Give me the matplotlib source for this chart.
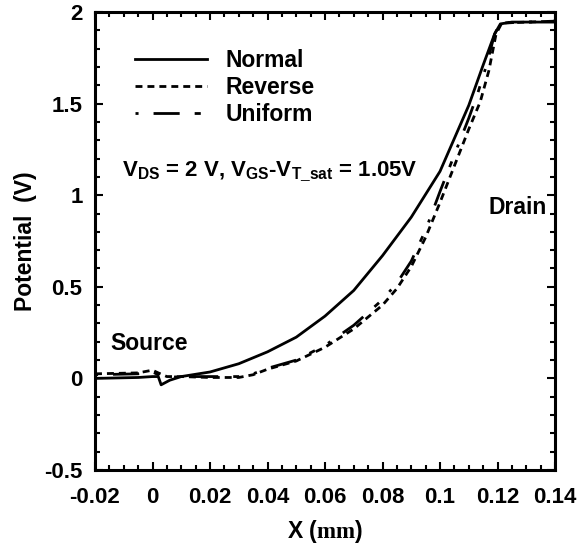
import numpy as np
import matplotlib
matplotlib.use("Agg")
import matplotlib.pyplot as plt
from matplotlib.ticker import MultipleLocator

plt.rcParams['font.family'] = ['Liberation Sans', 'DejaVu Sans']
plt.rcParams['font.weight'] = 'bold'
plt.rcParams['mathtext.fontset'] = 'custom'
plt.rcParams['mathtext.rm'] = 'Liberation Sans:bold'
plt.rcParams['mathtext.tt'] = 'Liberation Serif'
plt.rcParams['mathtext.default'] = 'rm'

# Potential along the channel
x_normal = [-0.02, -0.005, 0.0, 0.002, 0.003, 0.006, 0.01, 0.02, 0.03, 0.04, 0.05,
            0.06, 0.07, 0.08, 0.09, 0.1, 0.11, 0.115, 0.119, 0.121, 0.125, 0.14]
v_normal = [0.0, 0.005, 0.01, 0.01, -0.035, -0.01, 0.01, 0.035, 0.08, 0.145, 0.225,
            0.34, 0.48, 0.67, 0.88, 1.13, 1.49, 1.71, 1.88, 1.935, 1.945, 1.945]

x_reverse = [-0.02, -0.005, 0.0, 0.002, 0.005, 0.01, 0.02, 0.03, 0.035, 0.04, 0.05,
             0.06, 0.07, 0.08, 0.085, 0.09, 0.095, 0.1, 0.105, 0.11, 0.114, 0.117,
             0.1195, 0.1215, 0.14]
v_reverse = [0.025, 0.03, 0.045, 0.03, 0.01, 0.01, 0.005, 0.005, 0.02, 0.05, 0.095,
             0.17, 0.27, 0.4, 0.49, 0.61, 0.77, 0.96, 1.16, 1.36, 1.51, 1.68,
             1.88, 1.94, 1.95]

x_uniform = [-0.02, -0.005, 0.0, 0.002, 0.005, 0.01, 0.02, 0.03, 0.035, 0.04, 0.05,
             0.06, 0.07, 0.08, 0.085, 0.09, 0.095, 0.1, 0.105, 0.11, 0.113, 0.116,
             0.119, 0.121, 0.14]
v_uniform = [0.02, 0.025, 0.035, 0.02, 0.005, 0.01, 0.01, 0.01, 0.025, 0.055, 0.1,
             0.18, 0.29, 0.43, 0.52, 0.64, 0.81, 1.02, 1.22, 1.42, 1.55, 1.7,
             1.88, 1.94, 1.95]

fig = plt.figure(figsize=(5.81, 5.52), dpi=100)
ax = fig.add_axes([95 / 581, 82 / 552, 460 / 581, 458 / 552])

ax.plot(x_normal, v_normal, color='black', lw=2, label='Normal')
ax.plot(x_reverse, v_reverse, color='black', lw=2, dashes=(2.5, 1.8), label='Reverse')
ax.plot(x_uniform, v_uniform, color='black', lw=2,
        dashes=(1.1, 5.4, 9.4, 5.4, 2.2, 5.4), label='Uniform')

ax.set_xlim(-0.02, 0.14)
ax.set_ylim(-0.5, 2)
ax.xaxis.set_minor_locator(MultipleLocator(0.005))
ax.yaxis.set_minor_locator(MultipleLocator(0.1))
ax.set_xticks(np.arange(-0.02, 0.141, 0.02))
ax.set_xticklabels(['-0.02', '0', '0.02', '0.04', '0.06', '0.08', '0.1', '0.12', '0.14'])
ax.set_yticks([-0.5, 0, 0.5, 1, 1.5, 2])
ax.set_yticklabels(['-0.5', '0', '0.5', '1', '1.5', '2'])

ax.tick_params(which='both', direction='in', top=True, right=True, width=1.5,
               labelsize=16)
ax.tick_params(axis='x', which='major', pad=12)
ax.tick_params(axis='y', which='major', pad=9)
ax.tick_params(which='major', length=6)
ax.tick_params(which='minor', length=3.5)
for s in ax.spines.values():
    s.set_linewidth(2.2)

ax.set_xlabel(r'X ($\mathtt{mm}$)', fontsize=16.5, fontweight='bold')
ax.set_ylabel('Potential  (V)', fontsize=16.5, fontweight='bold')
ax.xaxis.set_label_coords(0.5, -0.105)
ax.yaxis.set_label_coords(-0.126, 0.5)

ax.legend(loc='upper left', bbox_to_anchor=(0.087, 0.92), frameon=False,
          fontsize=16.5, handlelength=3.15, handletextpad=0.8, labelspacing=0.18,
          borderpad=0, borderaxespad=0)

ax.text(-0.0105, 1.10, r'V$_{DS}$ = 2 V, V$_{GS}$-V$_{T\_sat}$ = 1.05V',
        fontsize=16, fontweight='bold', va='baseline', ha='left')
ax.text(-0.0148, 0.155, 'Source', fontsize=16.5, fontweight='bold', va='baseline')
ax.text(0.1167, 0.897, 'Drain', fontsize=16.5, fontweight='bold', va='baseline')

fig.savefig('out.png', dpi=100)
